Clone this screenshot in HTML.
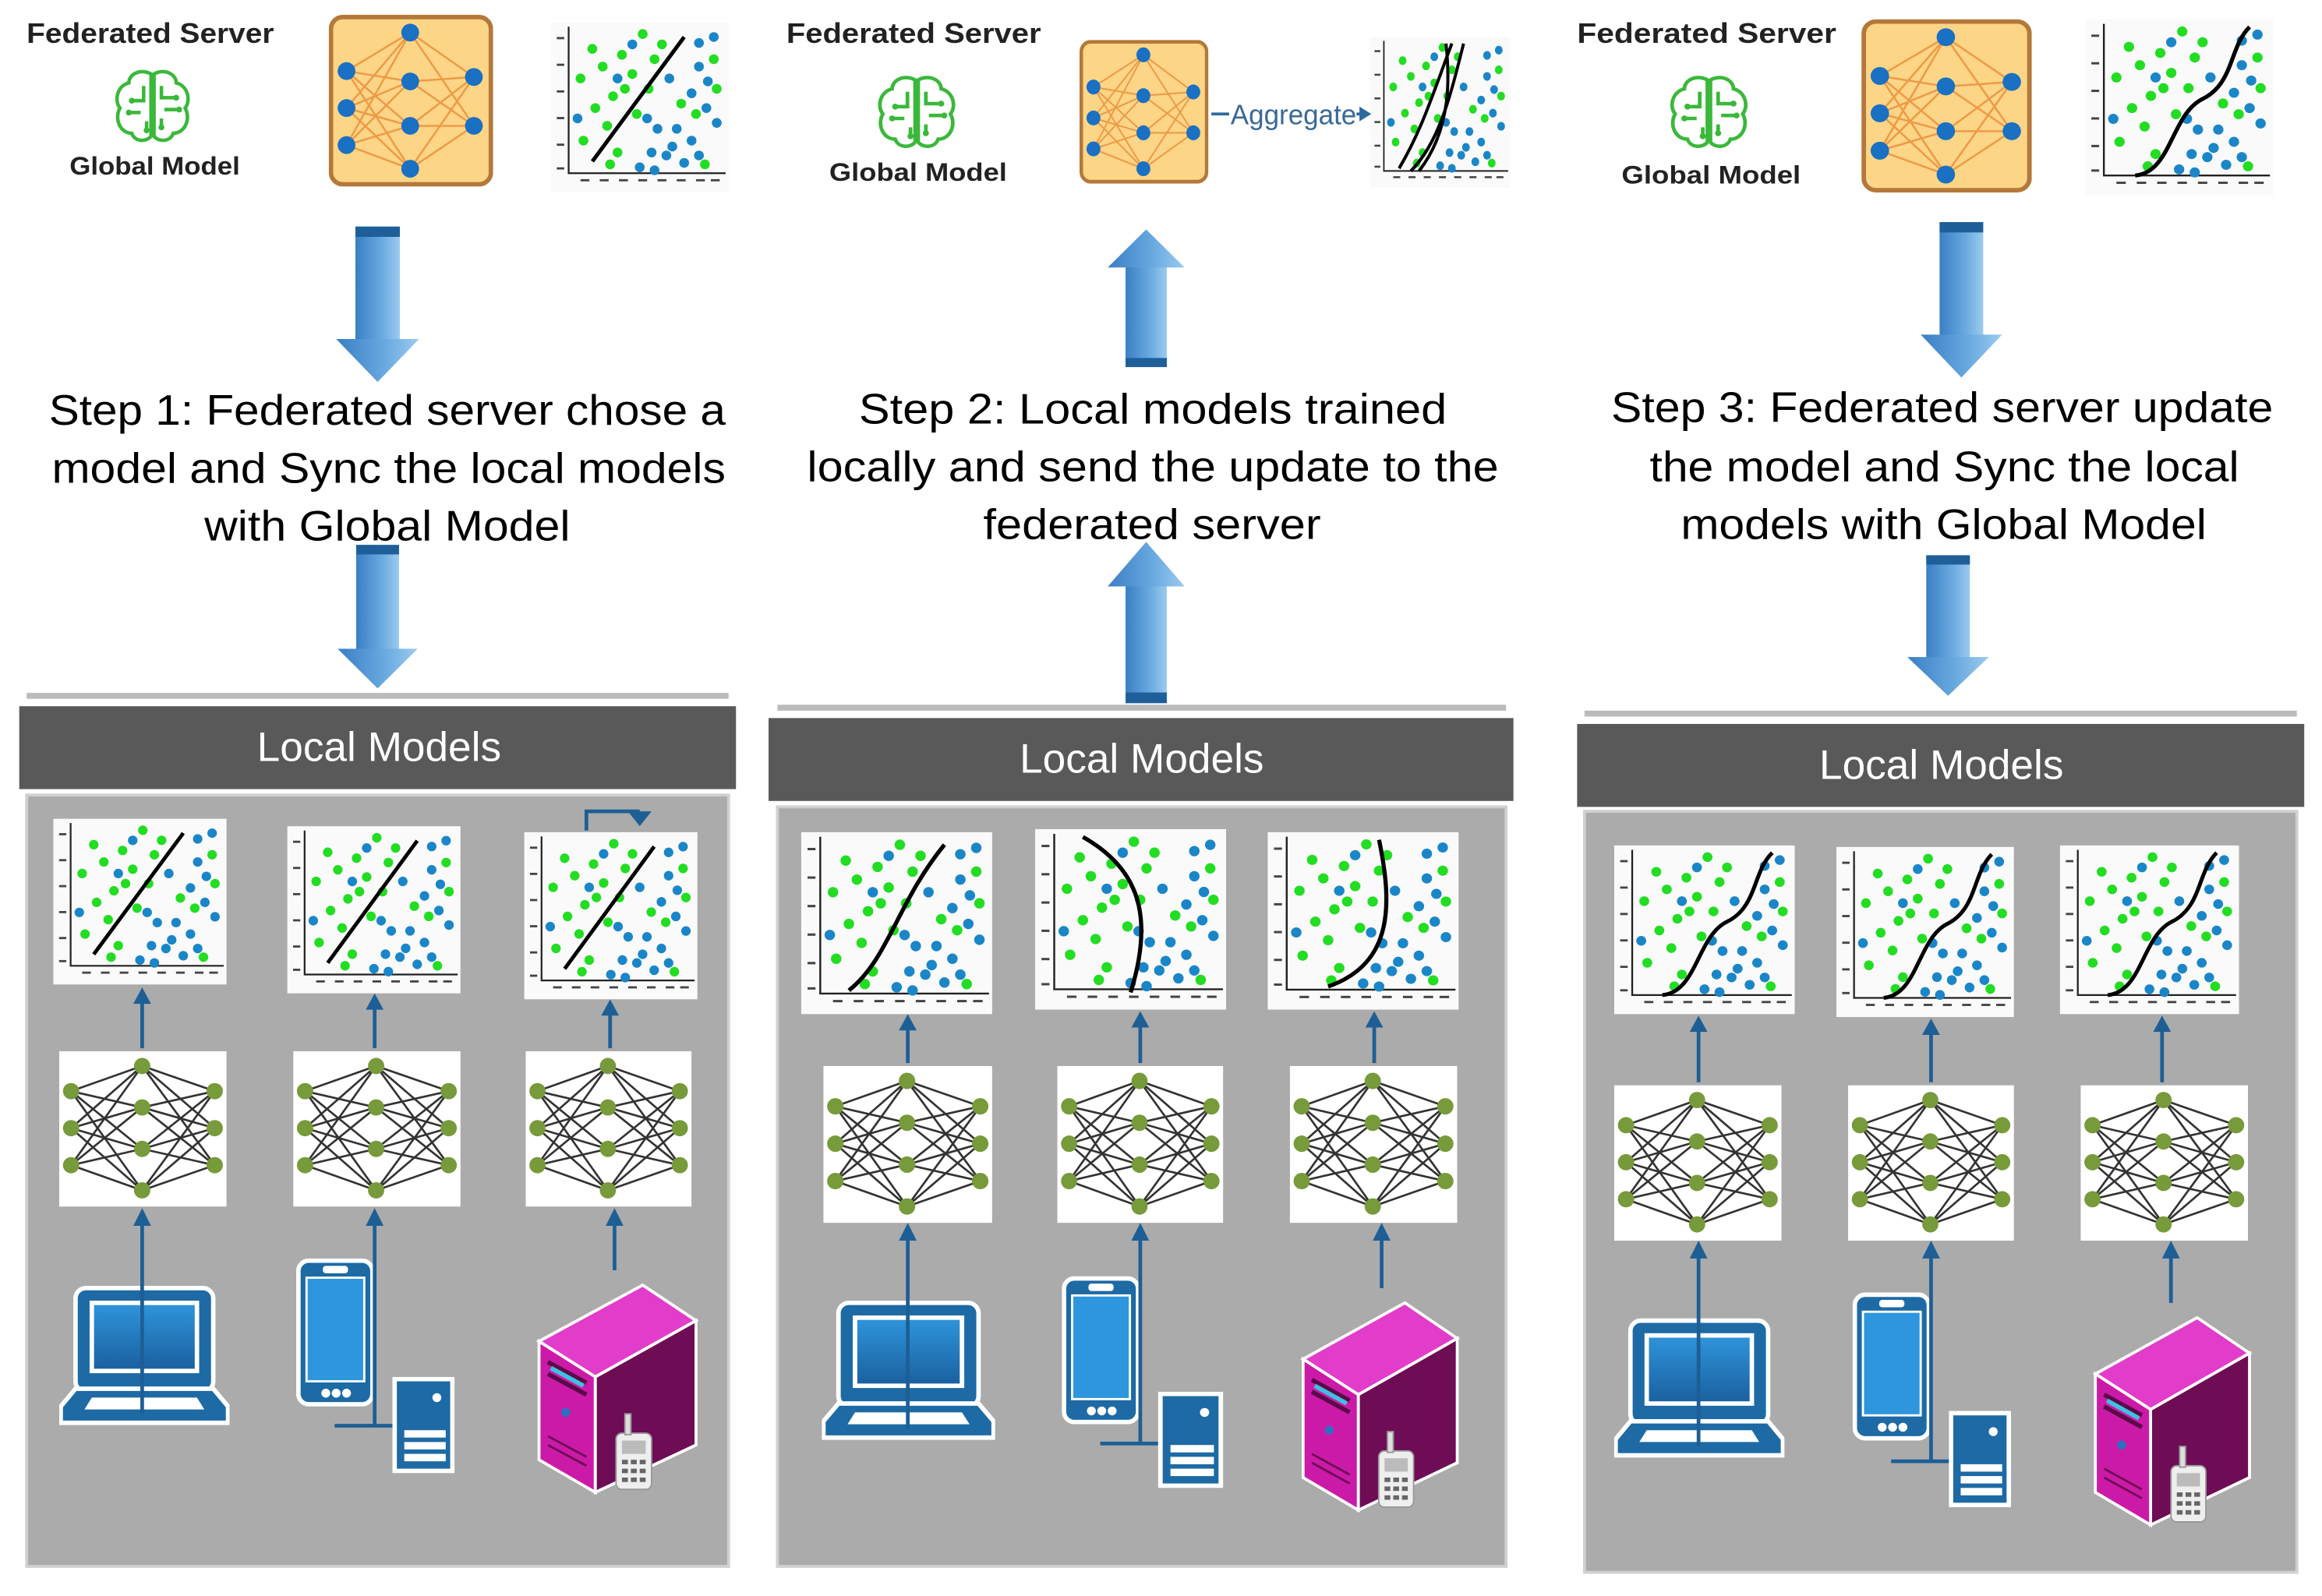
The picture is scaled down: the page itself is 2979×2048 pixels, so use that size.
<!DOCTYPE html>
<html><head><meta charset="utf-8">
<style>html,body{margin:0;padding:0;background:#fff;}svg{display:block;}</style>
</head><body>
<svg width="2979" height="2048" viewBox="0 0 1568 1078" preserveAspectRatio="none" xmlns="http://www.w3.org/2000/svg" font-family="'Liberation Sans', sans-serif">
<defs>
<linearGradient id="ag" x1="0" x2="1" y1="0" y2="0"><stop offset="0" stop-color="#3a7fc4"/><stop offset="0.6" stop-color="#6aaae0"/><stop offset="1" stop-color="#9ccbef"/></linearGradient>
<linearGradient id="scr" x1="0" x2="0" y1="0" y2="1"><stop offset="0" stop-color="#2f95db"/><stop offset="1" stop-color="#1a5f9e"/></linearGradient>
<symbol id="arr" viewBox="0 0 56 105" preserveAspectRatio="none">
 <rect x="13" y="0" width="30" height="78" fill="url(#ag)"/>
 <rect x="13" y="0" width="30" height="7" fill="#1e5f9a"/>
 <polygon points="0,76 56,76 28,105" fill="url(#ag)"/>
</symbol>
<symbol id="dots" viewBox="0 0 120 115" preserveAspectRatio="none">
 <rect x="0" y="0" width="120" height="115" fill="#fafafa"/>
 <path d="M12,3 V102 H118" stroke="#222" stroke-width="1.2" fill="none"/>
 <g fill="#444"><rect x="4" y="10" width="5" height="1.5"/><rect x="4" y="28" width="5" height="1.5"/><rect x="4" y="46" width="5" height="1.5"/><rect x="4" y="64" width="5" height="1.5"/><rect x="4" y="82" width="5" height="1.5"/><rect x="4" y="98" width="5" height="1.5"/>
 <rect x="20" y="106" width="6" height="1.5"/><rect x="33" y="106" width="6" height="1.5"/><rect x="46" y="106" width="6" height="1.5"/><rect x="59" y="106" width="6" height="1.5"/><rect x="72" y="106" width="6" height="1.5"/><rect x="85" y="106" width="6" height="1.5"/><rect x="98" y="106" width="6" height="1.5"/><rect x="108" y="106" width="6" height="1.5"/></g>
 <g fill="#22dd22"><circle cx="20" cy="38" r="3.3"/><circle cx="28" cy="18" r="3.3"/><circle cx="35" cy="30" r="3.3"/><circle cx="42" cy="50" r="3.3"/><circle cx="30" cy="58" r="3.3"/><circle cx="48" cy="22" r="3.3"/><circle cx="55" cy="35" r="3.3"/><circle cx="62" cy="8" r="3.3"/><circle cx="50" cy="45" r="3.3"/><circle cx="38" cy="70" r="3.3"/><circle cx="22" cy="80" r="3.3"/><circle cx="45" cy="88" r="3.3"/><circle cx="58" cy="62" r="3.3"/><circle cx="70" cy="25" r="3.3"/><circle cx="75" cy="15" r="3.3"/><circle cx="66" cy="45" r="3.3"/><circle cx="40" cy="96" r="3.3"/><circle cx="88" cy="55" r="3.3"/><circle cx="98" cy="62" r="3.3"/><circle cx="112" cy="45" r="3.3"/><circle cx="110" cy="25" r="3.3"/><circle cx="104" cy="96" r="3.3"/></g>
 <g fill="#1a86c8"><circle cx="18" cy="65" r="3.3"/><circle cx="45" cy="38" r="3.3"/><circle cx="65" cy="65" r="3.3"/><circle cx="80" cy="38" r="3.3"/><circle cx="72" cy="72" r="3.3"/><circle cx="85" cy="72" r="3.3"/><circle cx="95" cy="80" r="3.3"/><circle cx="105" cy="58" r="3.3"/><circle cx="110" cy="10" r="3.3"/><circle cx="100" cy="30" r="3.3"/><circle cx="106" cy="40" r="3.3"/><circle cx="95" cy="48" r="3.3"/><circle cx="78" cy="90" r="3.3"/><circle cx="90" cy="95" r="3.3"/><circle cx="60" cy="98" r="3.3"/><circle cx="70" cy="100" r="3.3"/><circle cx="82" cy="84" r="3.3"/><circle cx="100" cy="90" r="3.3"/><circle cx="112" cy="68" r="3.3"/><circle cx="100" cy="14" r="3.3"/><circle cx="55" cy="15" r="3.3"/><circle cx="68" cy="88" r="3.3"/></g>
</symbol>
<symbol id="lS" viewBox="0 0 120 115" preserveAspectRatio="none"><path d="M28,94 L90,10" stroke="#000" stroke-width="2.6" fill="none"/></symbol>
<symbol id="lA" viewBox="0 0 120 115" preserveAspectRatio="none"><path d="M30,100 C55,80 60,45 90,8" stroke="#000" stroke-width="2.6" fill="none"/></symbol>
<symbol id="lB" viewBox="0 0 120 115" preserveAspectRatio="none"><path d="M30,5 C65,25 75,55 60,104" stroke="#000" stroke-width="2.6" fill="none"/></symbol>
<symbol id="lC" viewBox="0 0 120 115" preserveAspectRatio="none"><path d="M38,100 C80,85 78,45 70,5" stroke="#000" stroke-width="2.6" fill="none"/></symbol>
<symbol id="lD" viewBox="0 0 120 115" preserveAspectRatio="none"><path d="M32,102 C55,100 55,62 75,52 C95,42 92,18 105,5" stroke="#000" stroke-width="2.6" fill="none"/></symbol>
<symbol id="lE" viewBox="0 0 120 115" preserveAspectRatio="none"><g stroke="#000" stroke-width="2.6" fill="none"><path d="M25,100 C45,70 55,40 70,5"/><path d="M35,102 C60,80 70,40 80,5"/><path d="M42,102 C70,70 68,30 65,5"/></g></symbol>
<symbol id="nng" viewBox="0 0 113 105" preserveAspectRatio="none">
 <rect width="113" height="105" fill="#fff"/>
 <g stroke="#333" stroke-width="1.4">
  <path d="M8,27 L56,10 M8,27 L56,38 M8,27 L56,66 M8,27 L56,94 M8,52 L56,10 M8,52 L56,38 M8,52 L56,66 M8,52 L56,94 M8,77 L56,10 M8,77 L56,38 M8,77 L56,66 M8,77 L56,94"/>
  <path d="M105,27 L56,10 M105,27 L56,38 M105,27 L56,66 M105,27 L56,94 M105,52 L56,10 M105,52 L56,38 M105,52 L56,66 M105,52 L56,94 M105,77 L56,10 M105,77 L56,38 M105,77 L56,66 M105,77 L56,94"/>
 </g>
 <g fill="#779a3a"><circle cx="8" cy="27" r="5.5"/><circle cx="8" cy="52" r="5.5"/><circle cx="8" cy="77" r="5.5"/><circle cx="56" cy="10" r="5.5"/><circle cx="56" cy="38" r="5.5"/><circle cx="56" cy="66" r="5.5"/><circle cx="56" cy="94" r="5.5"/><circle cx="105" cy="27" r="5.5"/><circle cx="105" cy="52" r="5.5"/><circle cx="105" cy="77" r="5.5"/></g>
</symbol>
<symbol id="nno" viewBox="0 0 111 116" preserveAspectRatio="none">
 <rect x="1.5" y="1.5" width="108" height="113" rx="8" fill="#fcd587" stroke="#b4783a" stroke-width="3"/>
 <g stroke="#ee9a45" stroke-width="1.3">
  <path d="M12,38 L55,12 M12,38 L55,45 M12,38 L55,75 M12,38 L55,104 M12,63 L55,12 M12,63 L55,45 M12,63 L55,75 M12,63 L55,104 M12,88 L55,12 M12,88 L55,45 M12,88 L55,75 M12,88 L55,104"/>
  <path d="M98,42 L55,12 M98,42 L55,45 M98,42 L55,75 M98,42 L55,104 M98,75 L55,12 M98,75 L55,45 M98,75 L55,75 M98,75 L55,104"/>
 </g>
 <g fill="#1a70c2"><circle cx="12" cy="38" r="6"/><circle cx="12" cy="63" r="6"/><circle cx="12" cy="88" r="6"/><circle cx="55" cy="12" r="6"/><circle cx="55" cy="45" r="6"/><circle cx="55" cy="75" r="6"/><circle cx="55" cy="104" r="6"/><circle cx="98" cy="42" r="6"/><circle cx="98" cy="75" r="6"/></g>
</symbol>
<symbol id="brain" viewBox="0 0 56 52" preserveAspectRatio="none">
 <g stroke="#3ab83a" stroke-width="2.4" fill="none">
  <path d="M27,4 C20,0 12,4 12,10 C4,12 2,22 6,27 C2,34 6,44 14,44 C16,50 24,50 27,46 Z"/>
  <path d="M29,4 C36,0 44,4 44,10 C52,12 54,22 50,27 C54,34 50,44 42,44 C40,50 32,50 29,46 Z"/>
  <path d="M22,12 V22 H14 M20,30 H12 M24,36 V42 M34,12 V20 H44 M36,28 H46 M34,34 V40"/>
 </g>
 <g fill="#3ab83a"><circle cx="14" cy="22" r="2"/><circle cx="12" cy="30" r="2"/><circle cx="44" cy="20" r="2"/><circle cx="46" cy="28" r="2"/><circle cx="24" cy="42" r="2"/><circle cx="34" cy="40" r="2"/></g>
</symbol>
<symbol id="laptop" viewBox="0 0 115 95" preserveAspectRatio="none">
 <rect x="11" y="2" width="93" height="70" rx="7" fill="#1d6aa5" stroke="#fff" stroke-width="3"/>
 <rect x="22" y="12" width="71" height="46" fill="url(#scr)" stroke="#fff" stroke-width="3"/>
 <polygon points="11,70 104,70 114,82 114,93 1,93 1,82" fill="#1d6aa5" stroke="#fff" stroke-width="3"/>
 <polygon points="22,76 93,76 98,84 17,84" fill="#fff"/>
</symbol>
<symbol id="phone" viewBox="0 0 53 100" preserveAspectRatio="none">
 <rect x="1.5" y="1.5" width="50" height="97" rx="7" fill="#1d6aa5" stroke="#fff" stroke-width="3"/>
 <rect x="7" y="13" width="39" height="70" fill="#2e96dc" stroke="#fff" stroke-width="1.5"/>
 <rect x="18" y="5" width="17" height="5" rx="2" fill="#fff"/>
 <circle cx="20" cy="91" r="3" fill="#fff"/><circle cx="27" cy="91" r="3" fill="#fff"/><circle cx="34" cy="91" r="3" fill="#fff"/>
</symbol>
<symbol id="tower" viewBox="0 0 42 65" preserveAspectRatio="none">
 <rect x="1.5" y="1.5" width="39" height="62" fill="#1d6aa5" stroke="#fff" stroke-width="3"/>
 <circle cx="30" cy="14" r="3" fill="#fff"/>
 <rect x="8" y="36" width="28" height="5" fill="#fff"/><rect x="8" y="44" width="28" height="5" fill="#fff"/><rect x="8" y="52" width="28" height="5" fill="#fff"/>
</symbol>
<symbol id="server" viewBox="0 0 110 152" preserveAspectRatio="none">
 <polygon points="2,48 72,10 108,34 40,72" fill="#e23ccb" stroke="#fff" stroke-width="2"/>
 <polygon points="2,48 40,72 40,150 2,128" fill="#cc1aa8" stroke="#fff" stroke-width="2"/>
 <polygon points="40,72 108,34 108,118 40,150" fill="#6e0c55" stroke="#fff" stroke-width="2"/>
 <path d="M8,62 L34,76 M8,70 L34,84" stroke="#5a0a48" stroke-width="3"/>
 <path d="M10,66 L32,78" stroke="#40c0e0" stroke-width="3"/>
 <circle cx="20" cy="96" r="3" fill="#2a70c0"/>
 <path d="M8,112 L34,126 M8,118 L34,132" stroke="#6e0c55" stroke-width="1.5"/>
 <rect x="54" y="110" width="24" height="38" rx="4" fill="#eee" stroke="#999"/>
 <rect x="60" y="97" width="4" height="14" fill="#ddd" stroke="#999"/>
 <rect x="58" y="115" width="16" height="9" fill="#bbb"/>
 <g fill="#666"><rect x="58" y="128" width="4" height="3"/><rect x="64" y="128" width="4" height="3"/><rect x="70" y="128" width="4" height="3"/><rect x="58" y="134" width="4" height="3"/><rect x="64" y="134" width="4" height="3"/><rect x="70" y="134" width="4" height="3"/><rect x="58" y="140" width="4" height="3"/><rect x="64" y="140" width="4" height="3"/><rect x="70" y="140" width="4" height="3"/></g>
</symbol>
<marker id="ah" viewBox="0 0 10 10" refX="5" refY="5" markerWidth="5" markerHeight="5" orient="auto"><polygon points="0,0 10,5 0,10" fill="#1d5f95"/></marker>
</defs>

<!-- ===== TOP ROW ===== -->
<g font-weight="bold" fill="#222">
 <text x="18" y="29" font-size="19" textLength="167" lengthAdjust="spacingAndGlyphs">Federated Server</text>
 <text x="47" y="118" font-size="17" textLength="115" lengthAdjust="spacingAndGlyphs">Global Model</text>
 <text x="531" y="29" font-size="19" textLength="172" lengthAdjust="spacingAndGlyphs">Federated Server</text>
 <text x="560" y="122" font-size="17" textLength="120" lengthAdjust="spacingAndGlyphs">Global Model</text>
 <text x="1065" y="29" font-size="19" textLength="175" lengthAdjust="spacingAndGlyphs">Federated Server</text>
 <text x="1095" y="124" font-size="17" textLength="121" lengthAdjust="spacingAndGlyphs">Global Model</text>
</g>
<use href="#brain" x="75" y="46" width="56" height="52"/>
<use href="#brain" x="590" y="50" width="58" height="52"/>
<use href="#brain" x="1125" y="50" width="58" height="52"/>
<use href="#nno" x="222" y="10" width="111" height="116"/>
<use href="#nno" x="729" y="27" width="87" height="97"/>
<use href="#nno" x="1257" y="13" width="115" height="117"/>
<use href="#dots" x="372" y="15" width="120" height="115"/><use href="#lS" x="372" y="15" width="120" height="115"/>
<use href="#dots" x="925" y="25" width="95" height="102"/><use href="#lE" x="925" y="25" width="95" height="102"/>
<use href="#dots" x="1408" y="13" width="127" height="119"/><use href="#lD" x="1408" y="13" width="127" height="119"/>
<line x1="818" y1="77" x2="830" y2="77" stroke="#2d6aa0" stroke-width="2"/>
<text x="831" y="84" font-size="19" fill="#3a6a95" textLength="85" lengthAdjust="spacingAndGlyphs">Aggregate</text>
<line x1="916" y1="77" x2="920" y2="77" stroke="#2d6aa0" stroke-width="2"/>
<polygon points="918,72 926,77 918,82" fill="#2d6aa0"/>

<!-- big arrows -->
<use href="#arr" x="227" y="153" width="56" height="105"/>
<use href="#arr" x="228" y="368" width="54" height="97"/>
<g transform="translate(748,155) scale(1,-1) translate(0,-93)"><use href="#arr" x="0" y="0" width="52" height="93"/></g>
<g transform="translate(748,366) scale(1,-1) translate(0,-109)"><use href="#arr" x="0" y="0" width="52" height="109"/></g>
<use href="#arr" x="1297" y="150" width="55" height="105"/>
<use href="#arr" x="1288" y="375" width="55" height="95"/>

<!-- step text -->
<g font-size="29" fill="#000">
 <text x="33" y="287" textLength="457" lengthAdjust="spacingAndGlyphs">Step 1: Federated server chose a</text>
 <text x="35" y="326" textLength="455" lengthAdjust="spacingAndGlyphs">model and Sync the local models</text>
 <text x="138" y="365" textLength="247" lengthAdjust="spacingAndGlyphs">with Global Model</text>
 <text x="580" y="286" textLength="397" lengthAdjust="spacingAndGlyphs">Step 2: Local models trained</text>
 <text x="545" y="325" textLength="467" lengthAdjust="spacingAndGlyphs">locally and send the update to the</text>
 <text x="664" y="364" textLength="228" lengthAdjust="spacingAndGlyphs">federated server</text>
 <text x="1088" y="285" textLength="447" lengthAdjust="spacingAndGlyphs">Step 3: Federated server update</text>
 <text x="1114" y="325" textLength="398" lengthAdjust="spacingAndGlyphs">the model and Sync the local</text>
 <text x="1135" y="364" textLength="355" lengthAdjust="spacingAndGlyphs">models with Global Model</text>
</g>

<!-- ===== PANELS ===== -->
<rect x="18" y="468" width="474" height="4" fill="#bbb"/>
<rect x="525" y="476" width="492" height="4" fill="#bbb"/>
<rect x="1070" y="480" width="481" height="4" fill="#bbb"/>
<rect x="18" y="537" width="474" height="521" fill="#ababab" stroke="#d0d0d0" stroke-width="2"/>
<rect x="525" y="545" width="492" height="513" fill="#ababab" stroke="#d0d0d0" stroke-width="2"/>
<rect x="1070" y="548" width="481" height="514" fill="#ababab" stroke="#d0d0d0" stroke-width="2"/>
<rect x="13" y="477" width="484" height="56" fill="#595959"/>
<rect x="519" y="485" width="503" height="56" fill="#595959"/>
<rect x="1065" y="489" width="491" height="56" fill="#595959"/>
<g font-size="28" fill="#fff" text-anchor="middle">
 <text x="256" y="514">Local Models</text>
 <text x="771" y="522">Local Models</text>
 <text x="1311" y="526">Local Models</text>
</g>

<!-- panel 1 -->
<use href="#dots" x="36" y="553" width="117" height="112"/><use href="#lS" x="36" y="553" width="117" height="112"/>
<use href="#dots" x="194" y="558" width="117" height="113"/><use href="#lS" x="194" y="558" width="117" height="113"/>
<use href="#dots" x="354" y="562" width="117" height="113"/><use href="#lS" x="354" y="562" width="117" height="113"/>
<path d="M396,561 V548 H432" stroke="#1d5f95" stroke-width="2.5" fill="none"/><polygon points="424,548 440,548 432,558" fill="#1d5f95"/>
<use href="#nng" x="40" y="710" width="113" height="105"/>
<use href="#nng" x="198" y="710" width="113" height="105"/>
<use href="#nng" x="355" y="710" width="112" height="105"/>
<use href="#laptop" x="40" y="868" width="115" height="95"/>
<use href="#phone" x="200" y="850" width="53" height="100"/>
<use href="#tower" x="265" y="930" width="42" height="65"/>
<use href="#server" x="362" y="858" width="110" height="152"/>

<!-- panel 2 -->
<use href="#dots" x="541" y="562" width="129" height="123"/><use href="#lA" x="541" y="562" width="129" height="123"/>
<use href="#dots" x="699" y="560" width="129" height="122"/><use href="#lB" x="699" y="560" width="129" height="122"/>
<use href="#dots" x="856" y="562" width="129" height="120"/><use href="#lC" x="856" y="562" width="129" height="120"/>
<use href="#nng" x="556" y="720" width="114" height="106"/>
<use href="#nng" x="714" y="720" width="112" height="106"/>
<use href="#nng" x="871" y="720" width="113" height="106"/>
<use href="#laptop" x="555" y="878" width="117" height="95"/>
<use href="#phone" x="717" y="862" width="53" height="100"/>
<use href="#tower" x="782" y="940" width="44" height="65"/>
<use href="#server" x="878" y="870" width="108" height="152"/>

<!-- panel 3 -->
<use href="#dots" x="1090" y="571" width="122" height="114"/><use href="#lD" x="1090" y="571" width="122" height="114"/>
<use href="#dots" x="1240" y="572" width="120" height="115"/><use href="#lD" x="1240" y="572" width="120" height="115"/>
<use href="#dots" x="1391" y="571" width="121" height="114"/><use href="#lD" x="1391" y="571" width="121" height="114"/>
<use href="#nng" x="1090" y="733" width="113" height="105"/>
<use href="#nng" x="1248" y="733" width="112" height="105"/>
<use href="#nng" x="1405" y="733" width="113" height="105"/>
<use href="#laptop" x="1090" y="890" width="115" height="95"/>
<use href="#phone" x="1251" y="873" width="53" height="100"/>
<use href="#tower" x="1316" y="953" width="42" height="65"/>
<use href="#server" x="1413" y="880" width="108" height="152"/>

<!-- small connectors -->
<g stroke="#1d5f95" stroke-width="2.5" fill="none">
 <path d="M96,708 V676"/><path d="M253,708 V680"/><path d="M412,708 V684"/>
 <path d="M96,955 V826"/><path d="M253,963 V826"/><path d="M226,963 H265"/><path d="M415,858 V826"/>
 <path d="M613,718 V694"/><path d="M770,718 V692"/><path d="M928,718 V692"/>
 <path d="M613,965 V836"/><path d="M770,975 V836"/><path d="M743,975 H782"/><path d="M933,870 V836"/>
 <path d="M1147,731 V695"/><path d="M1304,731 V697"/><path d="M1460,731 V695"/>
 <path d="M1147,977 V848"/><path d="M1304,987 V848"/><path d="M1277,987 H1316"/><path d="M1466,880 V848"/>
</g>
<g fill="#1d5f95">
 <polygon points="90,678 102,678 96,667"/><polygon points="247,682 259,682 253,671"/><polygon points="406,686 418,686 412,675"/>
 <polygon points="90,828 102,828 96,816"/><polygon points="247,828 259,828 253,816"/><polygon points="409,828 421,828 415,816"/>
 <polygon points="607,696 619,696 613,685"/><polygon points="764,694 776,694 770,683"/><polygon points="922,694 934,694 928,683"/>
 <polygon points="607,838 619,838 613,826"/><polygon points="764,838 776,838 770,826"/><polygon points="927,838 939,838 933,826"/>
 <polygon points="1141,697 1153,697 1147,686"/><polygon points="1298,699 1310,699 1304,688"/><polygon points="1454,697 1466,697 1460,686"/>
 <polygon points="1141,850 1153,850 1147,838"/><polygon points="1298,850 1310,850 1304,838"/><polygon points="1460,850 1472,850 1466,838"/>
</g>
</svg>
</body></html>
